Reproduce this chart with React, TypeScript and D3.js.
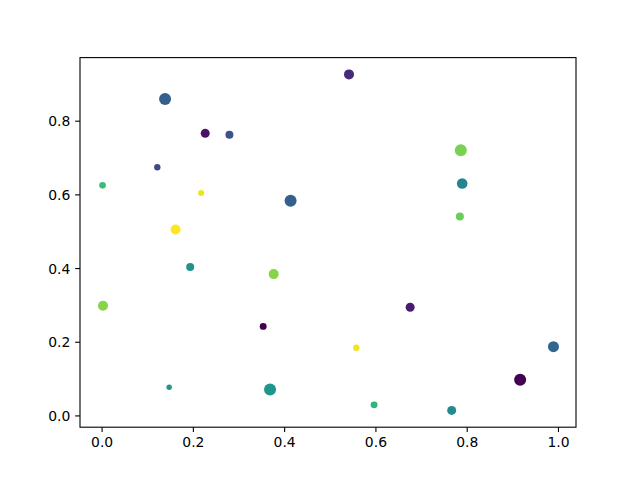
import React from "react";
import * as d3 from "d3";

const xs = [0.138, 0.541, 0.226, 0.279, 0.786, 0.121, 0.001, 0.217, 0.413, 0.789, 0.784, 0.161, 0.193, 0.376, 0.002, 0.675, 0.353, 0.557, 0.989, 0.916, 0.147, 0.368, 0.596, 0.766];
const ys = [0.860, 0.927, 0.767, 0.763, 0.721, 0.675, 0.626, 0.605, 0.584, 0.631, 0.541, 0.506, 0.404, 0.385, 0.299, 0.295, 0.243, 0.185, 0.188, 0.098, 0.078, 0.072, 0.030, 0.015];
const colorValues = [0.30, 0.12, 0.05, 0.25, 0.80, 0.22, 0.68, 0.97, 0.30, 0.45, 0.77, 1.0, 0.50, 0.82, 0.82, 0.08, 0.0, 0.98, 0.33, 0.0, 0.52, 0.52, 0.65, 0.48];
const sizes = [75, 52, 42, 33, 75, 21, 23, 19, 75, 58, 33, 52, 33, 52, 52, 42, 25, 21, 63, 75, 15, 75, 25, 42];
const xTicks = [0.0, 0.2, 0.4, 0.6, 0.8, 1.0];
const yTicks = [0.0, 0.2, 0.4, 0.6, 0.8];

const W = 640, H = 480;
const L = 80, R = 576, T = 57.6, B = 427.2;
const FONT = "DejaVu Sans, sans-serif";

export default function App() {
  const [x0, x1] = d3.extent(xs) as [number, number];
  const [y0, y1] = d3.extent(ys) as [number, number];
  const dx = x1 - x0, dy = y1 - y0;
  const x = d3.scaleLinear().domain([x0 - 0.05 * dx, x1 + 0.05 * dx]).range([L, R]);
  const y = d3.scaleLinear().domain([y0 - 0.05 * dy, y1 + 0.05 * dy]).range([B, T]);
  const color = d3.scaleSequential(d3.interpolateViridis).domain(d3.extent(colorValues) as [number, number]);
  const rad = (s: number) => (Math.sqrt(s) / 2) * (100 / 72);
  const tickLen = 4.86;
  return (
    <svg width={W} height={H} style={{ position: "fixed", left: 0, top: 0, background: "#fff" }}>
      <rect x={0} y={0} width={W} height={H} fill="#fff" />
      {xs.map((v, i) => (
        <circle key={i} cx={x(v)} cy={y(ys[i])} r={rad(sizes[i])} fill={color(colorValues[i])} />
      ))}
      <rect x={L} y={T} width={R - L} height={B - T} fill="none" stroke="#000" strokeWidth={1.1} />
      {xTicks.map((t) => (
        <g key={"x" + t} transform={`translate(${x(t)},${B})`}>
          <line y1={0} y2={tickLen} stroke="#000" strokeWidth={1.1} />
          <text y={tickLen + 4.9 + 10.5} textAnchor="middle" fontSize={13.9} fontFamily={FONT} fill="#000">
            {t.toFixed(1)}
          </text>
        </g>
      ))}
      {yTicks.map((t) => (
        <g key={"y" + t} transform={`translate(${L},${y(t)})`}>
          <line x1={0} x2={-tickLen} stroke="#000" strokeWidth={1.1} />
          <text x={-tickLen - 4.9} dy="0.36em" textAnchor="end" fontSize={13.9} fontFamily={FONT} fill="#000">
            {t.toFixed(1)}
          </text>
        </g>
      ))}
    </svg>
  );
}
